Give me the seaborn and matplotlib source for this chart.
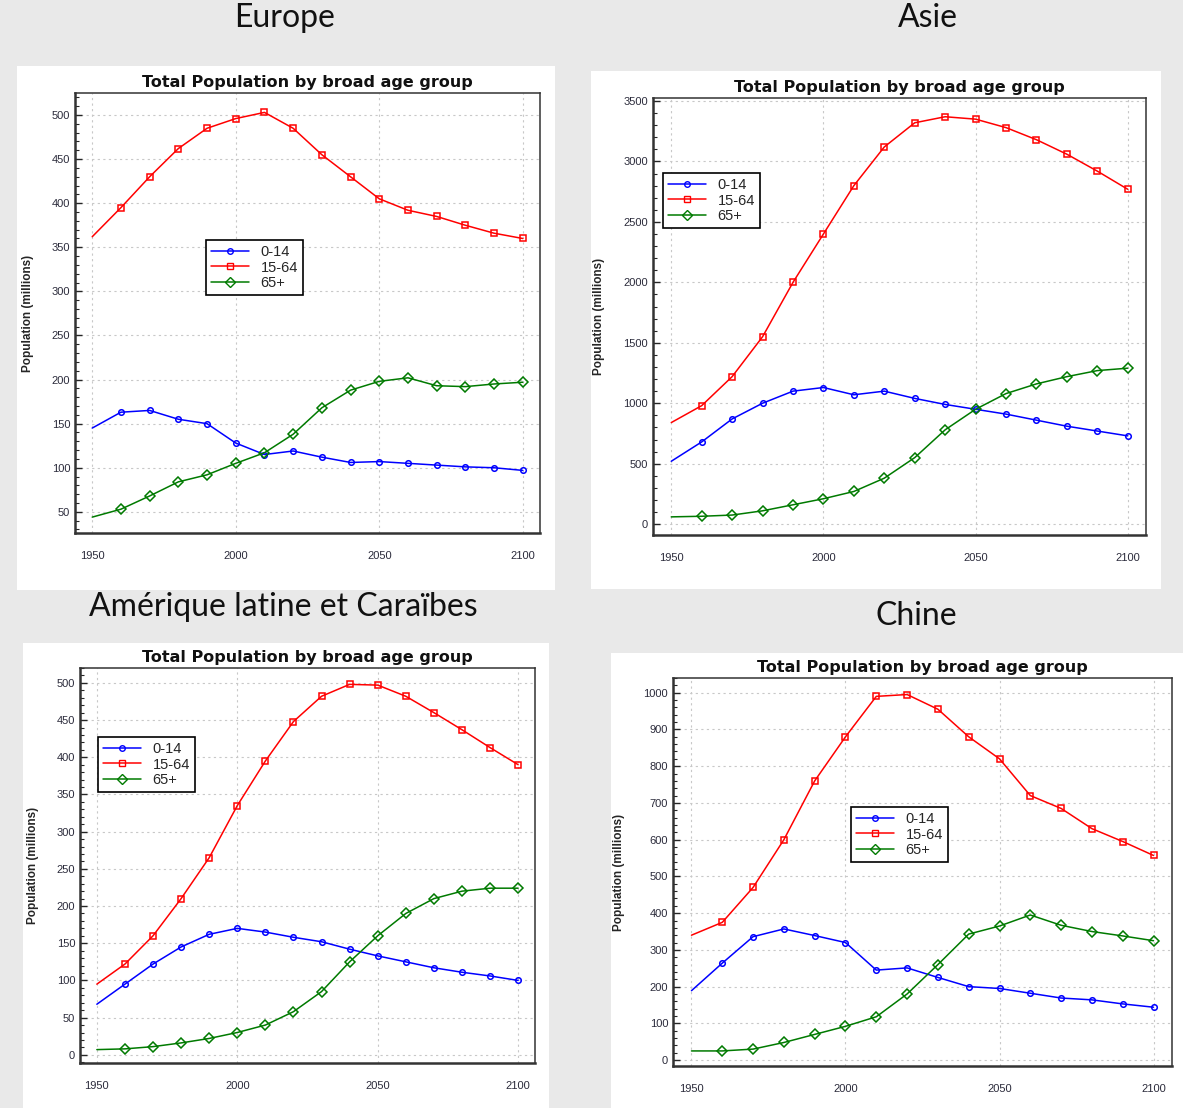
import pandas as pd
import matplotlib
matplotlib.use("Agg")
import matplotlib.pyplot as plt
from matplotlib.patches import Rectangle
from matplotlib.lines import Line2D
from matplotlib.ticker import MultipleLocator
import seaborn as sns

# données (millions), une valeur par décennie 1950-2100
years = list(range(1950, 2101, 10))
groups = ["0-14", "15-64", "65+"]

europe_0_14 = [145, 163, 165, 155, 150, 128, 115, 119, 112, 106, 107, 105, 103, 101, 100, 97]
europe_15_64 = [362, 395, 430, 462, 485, 496, 503, 485, 455, 430, 405, 392, 385, 375, 366, 360]
europe_65 = [44, 53, 68, 84, 92, 105, 117, 138, 168, 188, 198, 202, 193, 192, 195, 197]

asie_0_14 = [520, 680, 870, 1000, 1100, 1130, 1070, 1100, 1040, 990, 950, 910, 860, 810, 770, 730]
asie_15_64 = [840, 980, 1220, 1550, 2000, 2400, 2800, 3120, 3320, 3370, 3350, 3280, 3180, 3060, 2920, 2770]
asie_65 = [60, 65, 75, 110, 160, 210, 270, 380, 550, 780, 950, 1080, 1160, 1220, 1270, 1290]

amlat_0_14 = [68, 95, 122, 145, 162, 170, 165, 158, 152, 142, 133, 125, 117, 111, 106, 100]
amlat_15_64 = [95, 122, 160, 210, 265, 335, 395, 448, 482, 498, 497, 482, 460, 437, 413, 390]
amlat_65 = [7, 8, 11, 16, 22, 30, 40, 58, 85, 125, 160, 190, 210, 220, 224, 224]

chine_0_14 = [189, 264, 336, 357, 339, 320, 245, 251, 225, 200, 195, 182, 169, 164, 153, 144]
chine_15_64 = [340, 375, 470, 600, 760, 880, 990, 995, 955, 880, 820, 720, 685, 630, 595, 557]
chine_65 = [25, 25, 30, 48, 70, 92, 118, 180, 260, 343, 365, 395, 367, 350, 338, 325]

W, H = 1183, 1108
colors = {"0-14": "#0000ff", "15-64": "#ff0000", "65+": "#007a00"}
markers = {"0-14": "o", "15-64": "s", "65+": "D"}
msizes = {"0-14": 4, "15-64": 5, "65+": 5}

sns.set_style("white")
plt.rcParams["font.family"] = ["Liberation Sans", "DejaVu Sans"]

fig = plt.figure(figsize=(W / 100, H / 100), dpi=100, facecolor="#e9e9e9")


def fig_box(x0, y0, x1, y1):
    return [x0 / W, 1 - y1 / H, (x1 - x0) / W, (y1 - y0) / H]


panels = [
    # nom, séries, boîte blanche, axes, ylim, pas majeur, pas mineur, légende, titre région
    ("Europe", [europe_0_14, europe_15_64, europe_65], (17, 66, 555, 590),
     (75, 93, 540, 533), (26, 525), 50, 10, (206, 240), (285, 18)),
    ("Asie", [asie_0_14, asie_15_64, asie_65], (591, 71, 1161, 589),
     (653, 98, 1146, 535), (-90, 3525), 500, 100, (663, 173), (928, 18)),
    ("Amérique latine et Caraïbes", [amlat_0_14, amlat_15_64, amlat_65], (23, 643, 549, 1108),
     (80, 668, 535, 1063), (-11, 520), 50, 10, (98, 737), (283, 607)),
    ("Chine", [chine_0_14, chine_15_64, chine_65], (611, 653, 1183, 1108),
     (673, 678, 1172, 1066), (-16, 1040), 100, 20, (851, 807), (916, 616)),
]

for name, series, white, axbox, ylim, major, minor, leg_xy, lab_xy in panels:
    bx = fig_box(*white)
    fig.add_artist(Rectangle((bx[0], bx[1]), bx[2], bx[3], transform=fig.transFigure,
                             facecolor="white", edgecolor="none", zorder=0))
    fig.text(lab_xy[0] / W, 1 - lab_xy[1] / H, name, ha="center", va="center",
             fontsize=23, family=["Lato", "DejaVu Sans"], color="#111111")

    ax = fig.add_axes(fig_box(*axbox))
    df = pd.DataFrame({
        "year": years * 3,
        "value": series[0] + series[1] + series[2],
        "group": [g for g in groups for _ in years],
    })
    sns.lineplot(data=df, x="year", y="value", hue="group", style="group",
                 hue_order=groups, style_order=groups, palette=colors,
                 markers=markers, dashes=False, lw=1.1, markevery=slice(1, None),
                 legend=False, ax=ax)
    for line, g in zip(ax.lines, groups):
        line.set_markerfacecolor("none")
        line.set_markeredgecolor(colors[g])
        line.set_markeredgewidth(1.1)
        line.set_markersize(msizes[g])

    ax.set_xlim(1944, 2106)
    ax.set_ylim(*ylim)
    ax.set_xticks([1950, 2000, 2050, 2100])
    ax.yaxis.set_major_locator(MultipleLocator(major))
    ax.yaxis.set_minor_locator(MultipleLocator(minor))
    ax.grid(True, which="major", color="#c8c8c8", linestyle=(0, (2, 3)), lw=0.8)
    ax.tick_params(axis="x", direction="out", length=6, width=1, labelsize=8,
                   labelcolor="#2b2b3b", pad=7)
    ax.tick_params(axis="y", which="major", direction="in", length=5, width=1,
                   labelsize=8, labelcolor="#2b2b3b", left=True)
    ax.tick_params(axis="y", which="minor", direction="in", length=3, width=0.8, left=True)
    for s in ax.spines.values():
        s.set_visible(True)
        s.set_color("#333333")
        s.set_linewidth(1.1)
    ax.spines["left"].set_linewidth(1.8)
    ax.spines["bottom"].set_linewidth(1.8)

    ax.set_xlabel("")
    ax.set_ylabel("Population (millions)", fontsize=8.5, fontweight="bold", labelpad=13)
    ax.set_title("Total Population by broad age group", fontsize=11.5, fontweight="bold",
                 family="DejaVu Sans", color="#111111", pad=4)

    handles = [Line2D([], [], color=colors[g], marker=markers[g], mfc="none",
                      mec=colors[g], ms=msizes[g], lw=1.1) for g in groups]
    leg = ax.legend(handles, groups, loc="upper left",
                    bbox_to_anchor=(leg_xy[0] / W, 1 - leg_xy[1] / H),
                    bbox_transform=fig.transFigure, frameon=True, fancybox=False,
                    edgecolor="black", framealpha=1, fontsize=10.5, handlelength=2.6,
                    labelspacing=0.1, borderpad=0.35, handletextpad=0.8, borderaxespad=0)
    leg.get_frame().set_linewidth(1.2)

fig.savefig("out.png", dpi=100, facecolor=fig.get_facecolor())
